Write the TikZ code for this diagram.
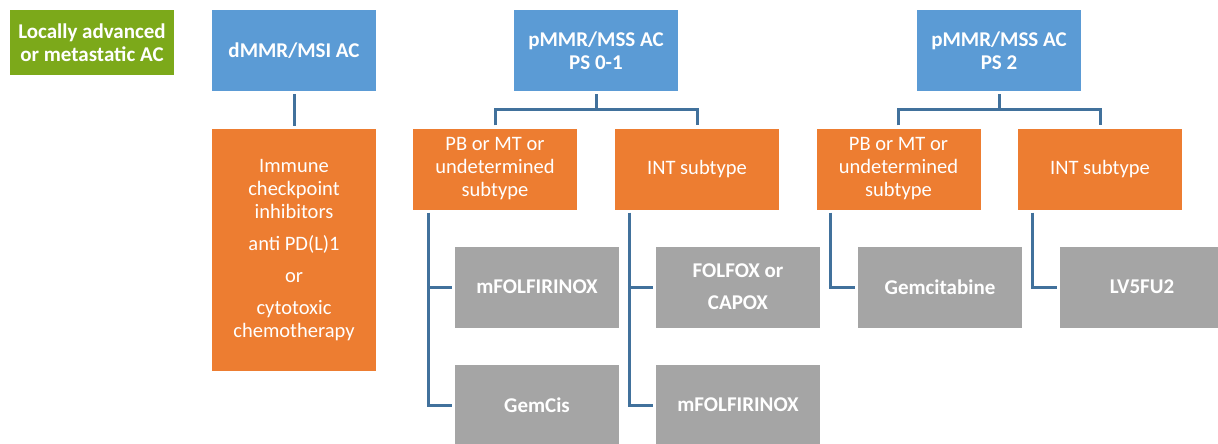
\documentclass[tikz,border=0pt]{standalone}
\usepackage{fontspec}
\setmainfont{Carlito}
\definecolor{startgreen}{HTML}{7CA91A}
\definecolor{msiblue}{HTML}{5B9BD5}
\definecolor{subtypeorange}{HTML}{ED7D31}
\definecolor{drugggray}{HTML}{A5A5A5}
\definecolor{linkblue}{HTML}{41719C}

\begin{document}
\begin{tikzpicture}[x=1pt,y=-1pt,
    box/.style={minimum width=164pt,minimum height=81pt,inner sep=0pt,
      text=white,align=center,font=\fontsize{20.5}{23}\selectfont},
    start/.style={box,fill=startgreen,minimum height=65pt,font=\fontsize{21}{23}\selectfont\bfseries},
    group/.style={box,fill=msiblue,font=\fontsize{21}{23}\selectfont\bfseries},
    subtype/.style={box,fill=subtypeorange},
    drug/.style={box,fill=drugggray,font=\fontsize{21}{23}\selectfont\bfseries},
    link/.style={draw=linkblue,line width=3pt}]
  \clip (0,0) rectangle (1218,444);
  \useasboundingbox (0,0) rectangle (1218,444);
  % Left-hand side part of the Figure
  \node[start]   (AC)    at (92,42.5)   {Locally advanced\\or metastatic AC};
  \node[group]   (MSI)   at (294,50.5)  {dMMR/MSI AC};
  \node[subtype,minimum height=242pt] (ICI) at (294,250)
        {Immune\\checkpoint\\inhibitors\\[9pt]anti PD(L)1\\[9pt]or\\[9pt]cytotoxic\\chemotherapy};
  \draw[link] ([yshift=-3pt]MSI.south) -- ([yshift=3pt]ICI.north);
  % Middle part: PS 0-1
  \node[group]   (MSS1)  at (596,50.5)  {pMMR/MSS AC\\PS 0-1};
  \node[subtype] (PB1)   at (495,169)   {PB or MT or\\undetermined\\subtype};
  \node[subtype] (INT1)  at (697,169)   {INT subtype};
  \node[drug]    (MF1)   at (537,287)   {mFOLFIRINOX};
  \node[drug]    (GC)    at (537,405)   {GemCis};
  \node[drug]    (FOX)   at (738,287)   {FOLFOX or\\[9pt]CAPOX};
  \node[drug]    (MF2)   at (738,405)   {mFOLFIRINOX};
  \draw[link] ([yshift=-3pt]MSS1.south) -- ([yshift=-18pt]MSS1.south);
  \draw[link] ([yshift=3pt]PB1.north) |- ([yshift=-18pt]MSS1.south) -| ([yshift=3pt]INT1.north);
  \draw[link] ([xshift=16pt,yshift=-3pt]PB1.south west) |- ([xshift=-3pt]GC.west);
  \draw[link] ([xshift=16pt]PB1.south west |- MF1.west) -- ([xshift=-3pt]MF1.west);
  \draw[link] ([xshift=15pt,yshift=-3pt]INT1.south west) |- ([xshift=-3pt]MF2.west);
  \draw[link] ([xshift=15pt]INT1.south west |- FOX.west) -- ([xshift=-3pt]FOX.west);
  % Right-hand side part: PS 2
  \node[group]   (MSS2)  at (999,50.5)  {pMMR/MSS AC\\PS 2};
  \node[subtype] (PB2)   at (898.5,169) {PB or MT or\\undetermined\\subtype};
  \node[subtype] (INT2)  at (1100,169)  {INT subtype};
  \node[drug]    (GEM)   at (940,287)   {Gemcitabine};
  \node[drug]    (LV)    at (1142,287)  {LV5FU2};
  \draw[link] ([yshift=-3pt]MSS2.south) -- ([yshift=-18pt]MSS2.south);
  \draw[link] ([yshift=3pt]PB2.north) |- ([yshift=-18pt]MSS2.south) -| ([yshift=3pt]INT2.north);
  \draw[link] ([xshift=14pt,yshift=-3pt]PB2.south west) |- ([xshift=-3pt]GEM.west);
  \draw[link] ([xshift=15pt,yshift=-3pt]INT2.south west) |- ([xshift=-3pt]LV.west);
\end{tikzpicture}
\end{document}
